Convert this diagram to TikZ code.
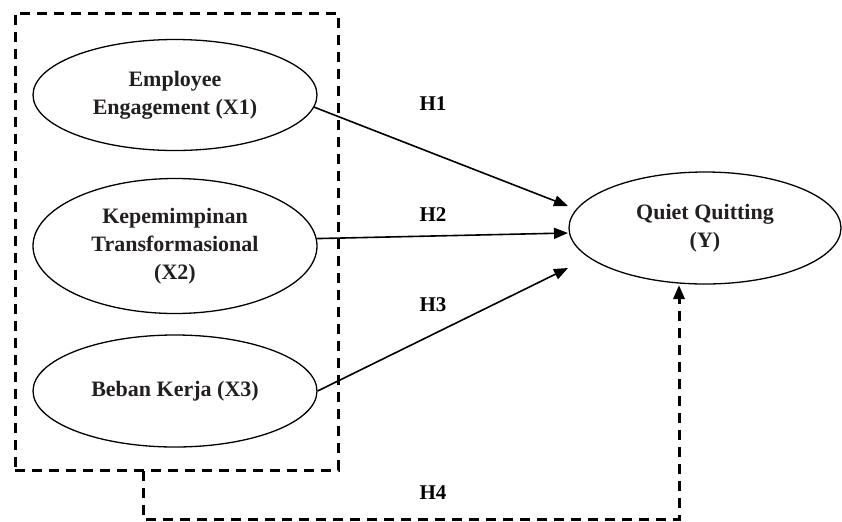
\documentclass[tikz,border=0pt]{standalone}
\usepackage{fontspec}
\setmainfont{Liberation Serif}
\usetikzlibrary{arrows.meta,shapes.geometric,calc}
\definecolor{ink}{HTML}{231F20}
\begin{document}
\begin{tikzpicture}[x=0.5pt,y=-0.5pt,
  var/.style={draw=black,ellipse,line width=0.65pt,inner sep=0pt,align=center,
    text=ink,font=\fontsize{11}{14}\selectfont\bfseries},
  hlabel/.style={font=\fontsize{10.5}{12}\selectfont\bfseries,text=black},
  conn/.style={line width=0.8pt,-{Triangle[length=7pt,width=5.5pt]}},
  dbox/.style={draw=black,line width=1.5pt,dash pattern=on 5pt off 3.5pt},
  dline/.style={line width=1.5pt,dash pattern=on 5pt off 3.5pt,-{Triangle[length=7pt,width=5.5pt]}}]
\useasboundingbox (0,0) rectangle (842,521);
\node[dbox,minimum width=161.5pt,minimum height=228.5pt,inner sep=0pt] (box) at (176.5,241.5) {};
\node[var,minimum width=142pt,minimum height=55.5pt] (x1) at (175,95) {Employee\\Engagement (X1)};
\node[var,minimum width=142pt,minimum height=67.5pt] (x2) at (175,246) {Kepemimpinan\\Transformasional\\(X2)};
\node[var,minimum width=142pt,minimum height=56pt] (x3) at (175,391) {Beban Kerja (X3)};
\node[var,minimum width=136pt,minimum height=56pt] (y) at (705,228) {Quiet Quitting\\(Y)};
\coordinate (t1) at (568,206);
\coordinate (t2) at (568,233);
\coordinate (t3) at (568,268);
\coordinate (t4) at (679,285);
\coordinate (b1) at (143,471);
\coordinate (b2) at (143,519);
\coordinate (b3) at (679,519);
\draw[conn] (x1.-5) -- (t1);
\draw[conn] (x2.3) -- (t2);
\draw[conn] (x3.east) -- (t3);
\draw[dline] (b1) -- (b2) -- (b3) -- (t4);
\node[hlabel] (h1) at (433,104) {H1};
\node[hlabel] (h2) at (433,215) {H2};
\node[hlabel] (h3) at (433,305) {H3};
\node[hlabel] (h4) at (433,493) {H4};
\end{tikzpicture}
\end{document}
